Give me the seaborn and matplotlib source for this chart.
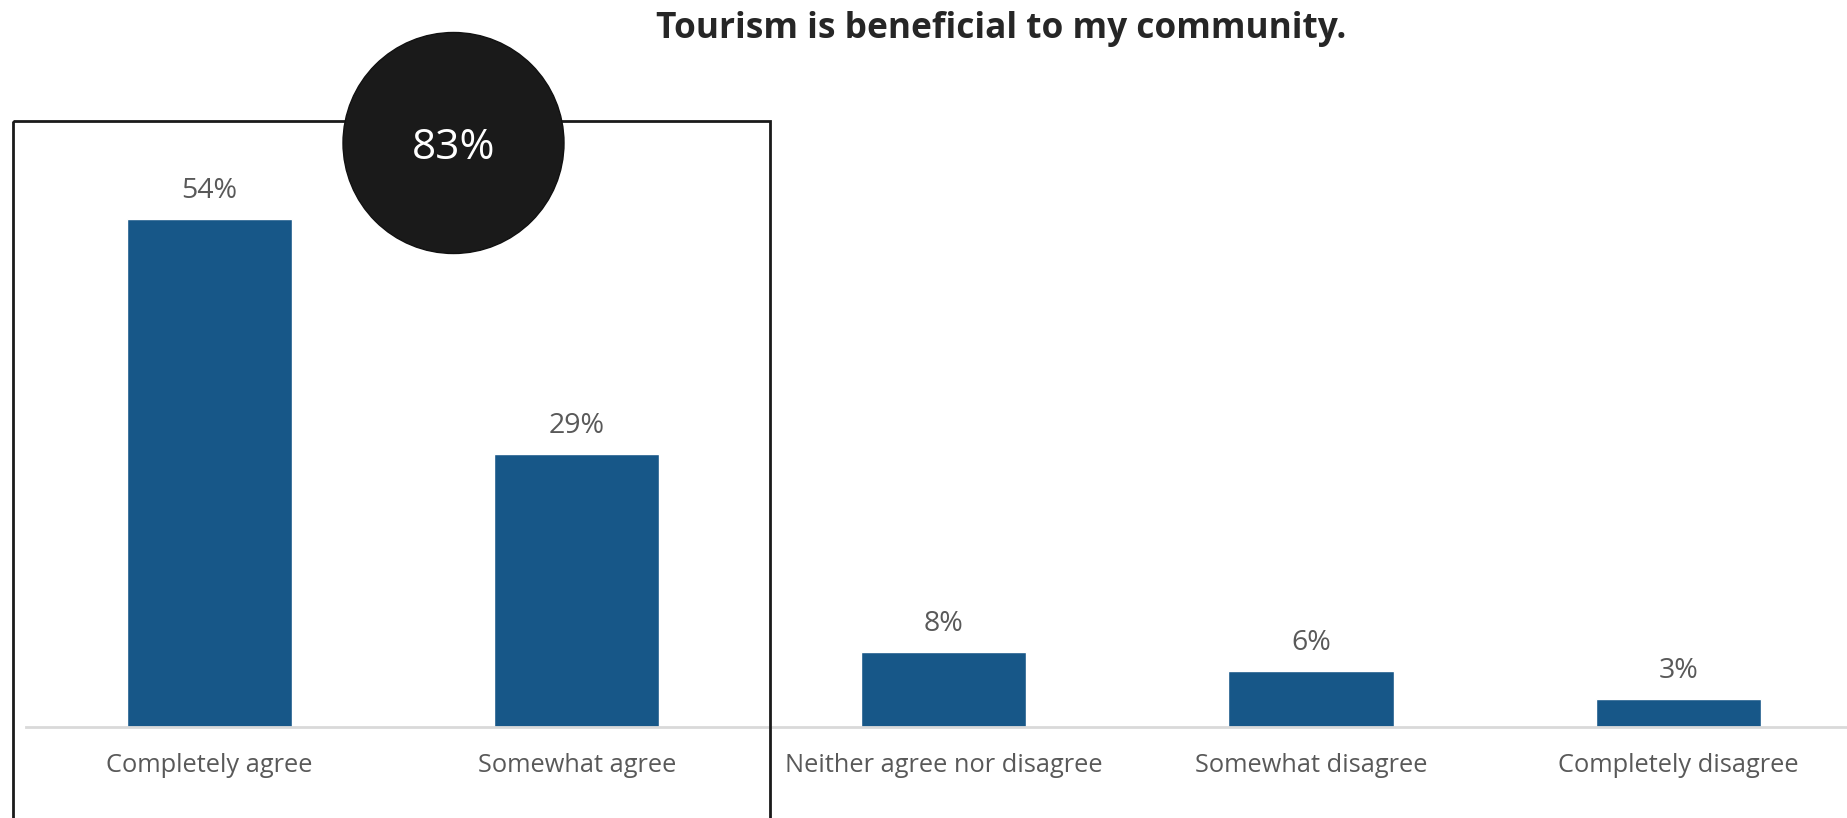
import matplotlib
matplotlib.use("Agg")
import matplotlib.pyplot as plt
import seaborn as sns
import pandas as pd
from matplotlib.patches import Rectangle, Ellipse

categories = ["Completely agree", "Somewhat agree", "Neither agree nor disagree",
              "Somewhat disagree", "Completely disagree"]
values = [54, 29, 8, 6, 3]
value_labels = ["54%", "29%", "8%", "6%", "3%"]
total_label = "83%"
title = "Tourism is beneficial to my community."

df = pd.DataFrame({"category": categories, "value": values})

sns.set_theme(style="white")
plt.rcParams["font.family"] = ["Open Sans", "DejaVu Sans"]

W, H = 1847, 818
fig = plt.figure(figsize=(W / 100, H / 100), dpi=100)
ax_left, ax_bottom_px, ax_top_px = 26, 727, 100
ax = fig.add_axes([ax_left / W, (H - ax_bottom_px) / H, 1 - ax_left / W,
                   (ax_bottom_px - ax_top_px) / H])

sns.barplot(data=df, x="category", y="value", color="#175788", width=0.45,
            saturation=1, ax=ax)
ax.set_xlim(-0.5, 4.46)
ax.set_ylim(0, (ax_bottom_px - ax_top_px) / 9.41)

for c in ax.containers:
    ax.bar_label(c, labels=value_labels, padding=10, fontsize=20.5, color="#595959")

for s in ["top", "right", "left"]:
    ax.spines[s].set_visible(False)
ax.spines["bottom"].set_color("#d9d9d9")
ax.spines["bottom"].set_linewidth(2)
ax.set_yticks([])
ax.set_xlabel("")
ax.set_ylabel("")
ax.tick_params(axis="x", length=0, pad=19, labelsize=18.3, labelcolor="#595959")

# overlay in figure pixels
ov = fig.add_axes([0, 0, 1, 1])
ov.set_xlim(0, W)
ov.set_ylim(H, 0)
ov.axis("off")
ov.patch.set_alpha(0)
ov.add_patch(Rectangle((13, 121), 757, 720, fill=False, edgecolor="#1a1a1a", lw=2))
ov.add_patch(Ellipse((453.5, 143), 221, 221, facecolor="#1a1a1a", edgecolor="#111111", lw=1))
ov.text(453.5, 148, total_label, ha="center", va="center", color="white", fontsize=30.5)

fig.text(1001 / W, 1 - 29 / H, title, ha="center", va="center", fontsize=25.4,
         fontweight="bold", color="#262626")

fig.savefig("out.png", dpi=100)
